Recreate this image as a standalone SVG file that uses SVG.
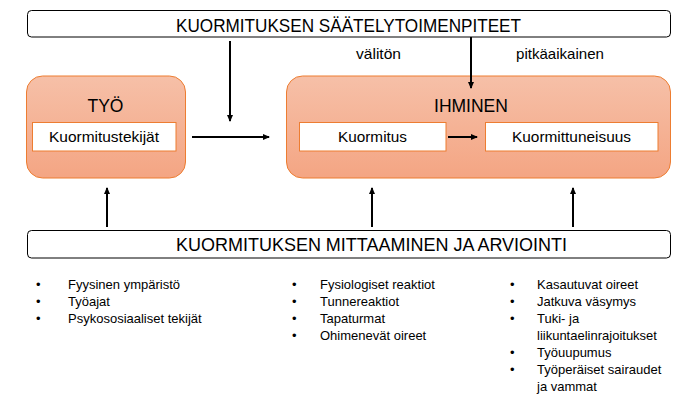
<svg xmlns="http://www.w3.org/2000/svg" width="695" height="403" viewBox="0 0 695 403">
<defs>
<linearGradient id="og" x1="0" y1="0" x2="0" y2="1">
<stop offset="0" stop-color="#f6c0a8"/>
<stop offset="1" stop-color="#f4a583"/>
</linearGradient>
<marker id="ah" markerWidth="7" markerHeight="7" refX="6" refY="3.5" orient="auto" markerUnits="userSpaceOnUse">
<path d="M0,0.5 L7,3.5 L0,6.5 Z" fill="#000"/>
</marker>
</defs>
<style>
text{font-family:"Liberation Sans",Arial,sans-serif;fill:#000}
.bar{fill:#fff;stroke:#000;stroke-width:1}
.big{font-size:17.5px;text-anchor:middle}
.node{fill:url(#og);stroke:#ed7d31;stroke-width:1}
.inner{fill:#fff;stroke:#ed7d31;stroke-width:1}
.lbl{font-size:14.5px;text-anchor:middle}
.sm{font-size:13px}
.mid{font-size:15px;text-anchor:middle}
.conn line{stroke:#000;stroke-width:2;marker-end:url(#ah)}
</style>
<g id="saately">
<rect class="bar" x="27.5" y="10.5" width="643" height="26.5" rx="4"/>
<text class="big" x="348.5" y="32" textLength="345" lengthAdjust="spacingAndGlyphs">KUORMITUKSEN SÄÄTELYTOIMENPITEET</text>
</g>
<g id="tyo">
<rect class="node" x="26.5" y="76" width="159" height="102" rx="16"/>
<text class="big" x="105.5" y="112">TYÖ</text>
<rect class="inner" x="32.5" y="122.5" width="143.5" height="28.5"/>
<text class="lbl" x="104" y="142" textLength="110" lengthAdjust="spacingAndGlyphs">Kuormitustekijät</text>
</g>
<g id="ihminen">
<rect class="node" x="286.5" y="76" width="384" height="102" rx="16"/>
<text class="big" x="471" y="112">IHMINEN</text>
<rect class="inner" x="299.5" y="122.5" width="146.5" height="28.5"/>
<text class="lbl" x="372.5" y="142" textLength="69" lengthAdjust="spacingAndGlyphs">Kuormitus</text>
<rect class="inner" x="485.5" y="122.5" width="172.5" height="28.5"/>
<text class="lbl" x="571.5" y="142" textLength="119" lengthAdjust="spacingAndGlyphs">Kuormittuneisuus</text>
</g>
<g id="labels">
<text class="mid" x="378.5" y="59" textLength="45" lengthAdjust="spacingAndGlyphs">välitön</text>
<text class="mid" x="560" y="59" textLength="88" lengthAdjust="spacingAndGlyphs">pitkäaikainen</text>
</g>
<g id="mittaaminen">
<rect class="bar" x="27.5" y="230.5" width="643" height="27.5" rx="4"/>
<text class="big" x="371.5" y="251" textLength="391" lengthAdjust="spacingAndGlyphs">KUORMITUKSEN MITTAAMINEN JA ARVIOINTI</text>
</g>
<g class="conn" id="connectors">
<line x1="230" y1="41" x2="230" y2="121"/>
<line x1="471" y1="37" x2="471" y2="88"/>
<line x1="192" y1="137" x2="269" y2="137"/>
<line x1="448" y1="137" x2="477" y2="137"/>
<line x1="107" y1="227" x2="107" y2="188"/>
<line x1="372" y1="227" x2="372" y2="188"/>
<line x1="573" y1="227" x2="573" y2="188"/>
</g>
<g id="list-tyo" class="sm">
<text x="36" y="289">•</text><text x="68" y="289">Fyysinen ympäristö</text>
<text x="36" y="306">•</text><text x="68" y="306">Työajat</text>
<text x="36" y="323">•</text><text x="68" y="323">Psykososiaaliset tekijät</text>
</g>
<g id="list-valiton" class="sm">
<text x="292" y="289">•</text><text x="320" y="289">Fysiologiset reaktiot</text>
<text x="292" y="306">•</text><text x="320" y="306">Tunnereaktiot</text>
<text x="292" y="323">•</text><text x="320" y="323">Tapaturmat</text>
<text x="292" y="340">•</text><text x="320" y="340">Ohimenevät oireet</text>
</g>
<g id="list-pitka" class="sm">
<text x="510" y="289">•</text><text x="537" y="289">Kasautuvat oireet</text>
<text x="510" y="306">•</text><text x="537" y="306">Jatkuva väsymys</text>
<text x="510" y="323">•</text><text x="537" y="323">Tuki- ja</text>
<text x="537" y="340">liikuntaelinrajoitukset</text>
<text x="510" y="357">•</text><text x="537" y="357">Työuupumus</text>
<text x="510" y="374">•</text><text x="537" y="374">Työperäiset sairaudet</text>
<text x="537" y="391">ja vammat</text>
</g>
</svg>
